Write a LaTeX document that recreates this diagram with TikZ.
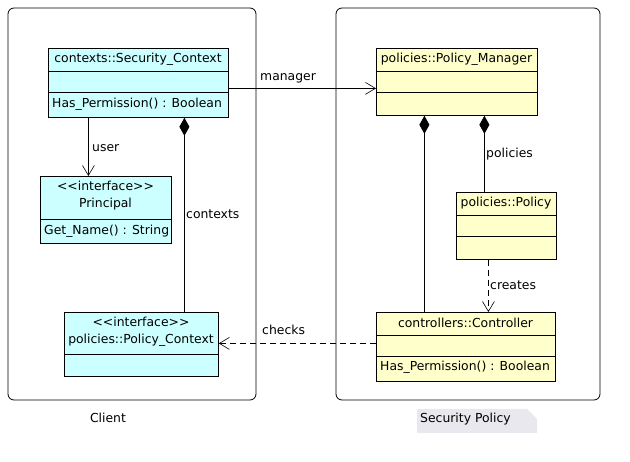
\documentclass[tikz,border=0pt]{standalone}
\usepackage{fontspec}
\setmainfont{DejaVu Sans}
\usetikzlibrary{arrows.meta}
\usetikzlibrary{calc}
\definecolor{clientcyan}{HTML}{CCFFFF}
\definecolor{policyyellow}{HTML}{FFFFCC}
\definecolor{notegray}{HTML}{E8E8EE}
\newcommand{\umlfont}{\fontsize{12.4}{14}\selectfont}
\newcommand{\stereo}[1]{{<}{<}#1{>}{>}}
\newcommand{\cornerrad}{6pt}
\tikzset{
  pkgbox/.style={draw, line width=0.8pt, rounded corners=\cornerrad},
  classbox/.style={draw, line width=0.8pt, inner sep=0pt, anchor=north west},
  classtext/.style={inner sep=0pt, anchor=center},
  optext/.style={inner sep=0pt, anchor=west},
  edgelabel/.style={inner sep=0pt, anchor=west},
  assoc/.style={line width=0.6pt, -{Straight Barb[length=10pt,width=12pt]}},
  depend/.style={assoc, dash pattern=on 6pt off 4pt},
  compose/.style={line width=0.6pt, {Diamond[length=18pt,width=10pt]}-}
}

\begin{document}
\begin{tikzpicture}[x=1pt, y=-1pt, font=\umlfont]
    \useasboundingbox (0,0) rectangle (630,462);

    % packages
    \draw[pkgbox] (8,8) rectangle (256,400);
    \draw[pkgbox] (336,8) rectangle (600,400);
    \node[classtext] (clientlbl) at (108,418) {Client};
    \fill[notegray] (417,409) -- (527,409) -- (537,419) -- (537,433) -- (417,433) -- cycle;
    \node[optext] (secpollbl) at (420,419) {Security Policy};

    % client classes
    \node[classbox, fill=clientcyan, minimum width=180pt, minimum height=69pt]
      (secctx) at (48,48) {};
    \draw[line width=0.6pt] (48,71) -- (228,71) (48,92) -- (228,92);
    \node[classtext] at (138,59) {contexts::Security\_Context};
    \node[optext] at (52,104) {Has\_Permission() : Boolean};

    \node[classbox, fill=clientcyan, minimum width=131pt, minimum height=67pt]
      (principal) at (40,176) {};
    \draw[line width=0.6pt] (40,219) -- (171,219);
    \node[classtext] at (105.5,186) {\stereo{interface}};
    \node[classtext] at (105.5,204) {Principal};
    \node[optext] at (44,231) {Get\_Name() : String};

    \node[classbox, fill=clientcyan, minimum width=154pt, minimum height=64pt]
      (polctx) at (64,312) {};
    \draw[line width=0.6pt] (64,354) -- (218,354);
    \node[classtext] at (141,322) {\stereo{interface}};
    \node[classtext] at (141,340) {policies::Policy\_Context};

    % security policy classes
    \node[classbox, fill=policyyellow, minimum width=161pt, minimum height=67pt]
      (polmgr) at (376,48) {};
    \draw[line width=0.6pt] (376,71) -- (537,71) (376,92) -- (537,92);
    \node[classtext] at (456.5,59) {policies::Policy\_Manager};

    \node[classbox, fill=policyyellow, minimum width=100pt, minimum height=67pt]
      (policy) at (456,192) {};
    \draw[line width=0.6pt] (456,215) -- (556,215) (456,236) -- (556,236);
    \node[classtext] at (506,203) {policies::Policy};

    \node[classbox, fill=policyyellow, minimum width=179pt, minimum height=69pt]
      (controller) at (376,312) {};
    \draw[line width=0.6pt] (376,335) -- (555,335) (376,356) -- (555,356);
    \node[classtext] at (465.5,323) {controllers::Controller};
    \node[optext] at (380,367) {Has\_Permission() : Boolean};

    % connectors
    \draw[assoc] ([yshift=-5.5pt]secctx.east)
      -- ([yshift=-5.5pt]secctx.east -| polmgr.west);
    \node[edgelabel] (mgrlbl) at (260,78) {manager};

    \draw[assoc] ([xshift=-50pt]secctx.south)
      -- ([xshift=-50pt]secctx.south |- principal.north);
    \node[edgelabel] (userlbl) at (92,148) {user};

    \draw[compose] ([xshift=46pt]secctx.south)
      -- ([xshift=46pt]secctx.south |- polctx.north);
    \node[edgelabel] (ctxlbl) at (186,214) {contexts};

    \draw[compose] ([xshift=-32.5pt]polmgr.south)
      -- ([xshift=-32.5pt]polmgr.south |- controller.north);
    \draw[compose] ([xshift=27.5pt]polmgr.south)
      -- ([xshift=27.5pt]polmgr.south |- policy.north);
    \node[edgelabel] (pollbl) at (486,154) {policies};

    \draw[depend] ([xshift=-18pt]policy.south)
      -- ([xshift=-18pt]policy.south |- controller.north);
    \node[edgelabel] (crlbl) at (490,285) {creates};

    \draw[depend] ([yshift=3.5pt]controller.west)
      -- ([yshift=3.5pt]controller.west -| polctx.east);
    \node[edgelabel] (chklbl) at (262,330) {checks};
\end{tikzpicture}
\end{document}
